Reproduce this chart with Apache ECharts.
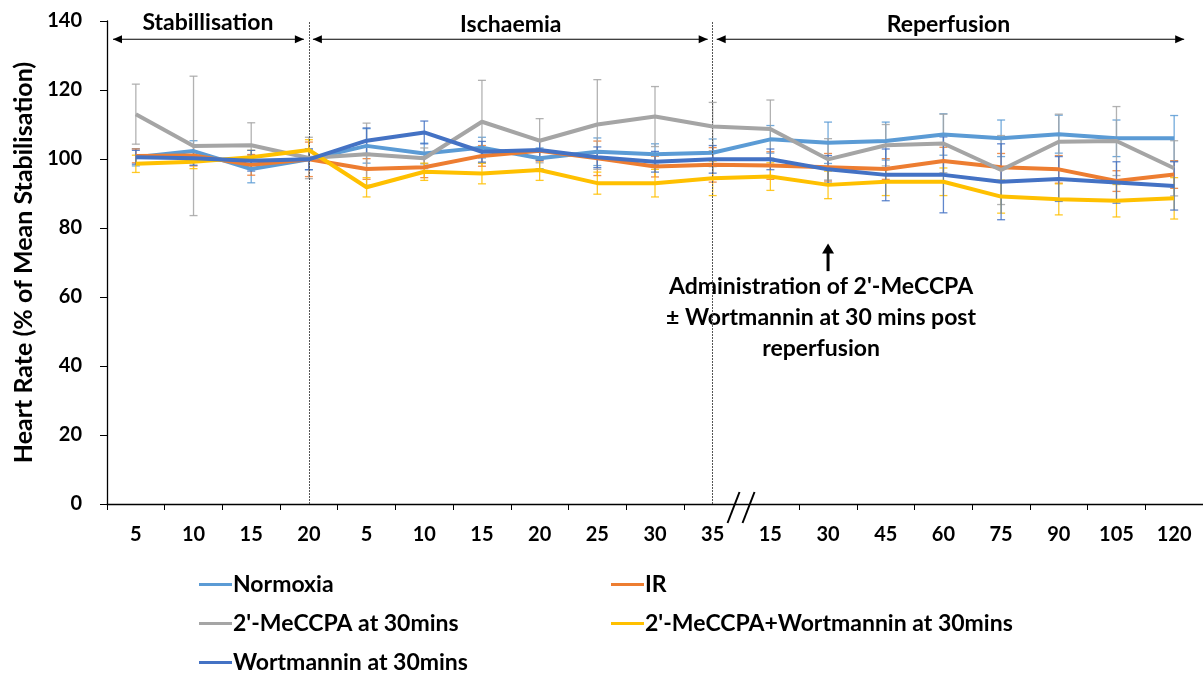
<!DOCTYPE html>
<html><head><meta charset="utf-8">
<script src="https://cdn.jsdelivr.net/npm/echarts@6/dist/echarts.min.js"></script>
<style>html,body{margin:0;padding:0;background:#fff}#c{width:1203px;height:673px}</style>
</head><body><div id="c"></div>
<script>
const categories = ['5','10','15','20','5','10','15','20','25','30','35','15','30','45','60','75','90','105','120'];
const yTicks = [0,20,40,60,80,100,120,140];
const normoxia = [100.5,102.3,97.1,99.9,103.8,101.6,103.3,100.2,102.1,101.4,101.8,105.7,104.7,105.2,107.1,106.0,107.2,106.0,106.0];
const normoxiaErr = [2.5,3,4,3,5,3,3,3,4,3,4,4,6,5.5,6,5.3,5.5,5.3,6.6];
const ir = [100.9,101.0,98.3,99.9,97.1,97.6,100.9,102.4,100.2,97.8,98.3,98.1,97.6,97.1,99.4,97.6,97.0,93.6,95.5];
const irErr = [2,3,3,5,3,3,3,3,5,3,5,4,4,3,4,4,4,3,4];
const meccpa = [113.0,103.8,104.0,100.3,101.4,100.2,110.8,105.3,110.0,112.3,109.4,108.7,99.9,104.0,104.5,96.8,105.0,105.2,97.3];
const meccpaErr = [8.7,20.2,6.5,6,9,3,12,6.4,13,8.7,7,8.4,6,6,8.5,10,8,10,8];
const meccpaWort = [98.6,99.2,100.5,102.6,91.8,96.3,95.8,96.8,93.0,93.0,94.4,94.9,92.5,93.4,93.4,89.1,88.3,87.9,88.6];
const meccpaWortErr = [2.5,2,2,3,2.8,2.5,3,3,3.2,4,5,4,4,4,4,4.8,4.5,4.7,6];
const wort = [100.5,100.2,99.5,99.9,105.3,107.7,102.1,102.6,100.5,99.2,99.9,99.9,97.0,95.4,95.4,93.4,94.2,93.2,92.2];
const wortErr = [2,2,3,3,3.7,3.3,3,3,3,3,4,3,4,7.5,11,11,6.5,6,7];

const seriesDefs = [
  {name:'Normoxia', data:normoxia, err:normoxiaErr, color:'#5B9BD5'},
  {name:'IR', data:ir, err:irErr, color:'#ED7D31'},
  {name:"2'-MeCCPA at 30mins", data:meccpa, err:meccpaErr, color:'#A5A5A5'},
  {name:"2'-MeCCPA+Wortmannin at 30mins", data:meccpaWort, err:meccpaWortErr, color:'#FFC000'},
  {name:'Wortmannin at 30mins', data:wort, err:wortErr, color:'#4472C4'}
];
const FONT = 'Lato, "Open Sans", sans-serif';

const series = [];
seriesDefs.forEach((s, k) => {
  series.push({
    type:'custom', name:s.name+'_err', silent:true, z:1,
    data:s.data.map((v,i)=>[i, v, s.err[i]]),
    renderItem:(params, api) => {
      const x = api.value(0), v = api.value(1), e = api.value(2);
      const top = api.coord([x, v+e]);
      const bot = api.coord([x, v-e]);
      const st = {stroke:s.color, lineWidth:1.3, opacity:0.85};
      return {type:'group', children:[
        {type:'line', shape:{x1:top[0],y1:top[1],x2:bot[0],y2:bot[1]}, style:st},
        {type:'line', shape:{x1:top[0]-4,y1:top[1],x2:top[0]+4,y2:top[1]}, style:st},
        {type:'line', shape:{x1:bot[0]-4,y1:bot[1],x2:bot[0]+4,y2:bot[1]}, style:st}
      ]};
    }
  });
});
seriesDefs.forEach((s, k) => {
  series.push({
    type:'line', name:s.name, data:s.data, symbol:'none', z:3+k,
    lineStyle:{color:s.color, width:4}, itemStyle:{color:s.color}
  });
});
// vertical phase lines
series.push({
  type:'line', data:[], silent:true,
  markLine:{symbol:'none', silent:true, label:{show:false},
    data:[
      [{coord:[3,0]},{coord:[3,140]}],
      [{coord:[10,0]},{coord:[10,140]}]
    ],
    lineStyle:{color:'#555', width:1, type:[2,1]}
  }
});

const chart = echarts.init(document.getElementById('c'), null, {renderer:'canvas'});
const legendCommon = {
  orient:'vertical', itemWidth:33, itemHeight:3, itemGap:16, icon:'rect', height:160,
  textStyle:{fontFamily:FONT, fontWeight:'bold', fontSize:23, color:'#000', padding:[0,0,0,-4]}
};
chart.setOption({
  animation:false,
  textStyle:{fontFamily:FONT},
  grid:{left:107, top:21, width:1096, height:483},
  xAxis:{
    type:'category', data:categories, boundaryGap:true,
    axisLine:{lineStyle:{color:'#000', width:1.3}},
    axisTick:{show:true, inside:false, length:6, lineStyle:{color:'#000'},
      interval:(i)=> i !== 11},
    axisLabel:{fontFamily:FONT, fontWeight:'bold', fontSize:20, color:'#000', margin:21, interval:0}
  },
  yAxis:{
    type:'value', min:0, max:140, interval:20,
    name:'Heart Rate (% of Mean Stabilisation)', nameLocation:'middle', nameRotate:90, nameGap:70,
    nameTextStyle:{fontFamily:FONT, fontWeight:'bold', fontSize:25, color:'#000'},
    axisLine:{show:true, lineStyle:{color:'#000', width:1.3}},
    axisTick:{show:true, inside:false, length:7, lineStyle:{color:'#000'}},
    splitLine:{show:false},
    axisLabel:{fontFamily:FONT, fontWeight:'bold', fontSize:20, color:'#000', margin:25,
      formatter:(v)=> yTicks.includes(v) ? String(v) : ''}
  },
  legend:[
    Object.assign({left:194, top:568, data:['Normoxia',"2'-MeCCPA at 30mins",'Wortmannin at 30mins']}, legendCommon),
    Object.assign({left:606, top:568, data:['IR',"2'-MeCCPA+Wortmannin at 30mins"]}, legendCommon)
  ],
  series:series
});

// annotations
function px(i, v){ return chart.convertToPixel({gridIndex:0}, [i, v]); }
const g = [];
const arrowY = px(0,135)[1] + 1;
function dblArrow(x1, x2, y){
  g.push({type:'line', shape:{x1:x1, y1:y, x2:x2, y2:y}, style:{stroke:'#000', lineWidth:1.2}});
  g.push({type:'polygon', shape:{points:[[x1,y],[x1+9,y-4],[x1+9,y+4]]}, style:{fill:'#000'}});
  g.push({type:'polygon', shape:{points:[[x2,y],[x2-9,y-4],[x2-9,y+4]]}, style:{fill:'#000'}});
}
const gridLeft = 107;
const x3 = px(3,0)[0], x10 = px(10,0)[0], x18 = px(18,0)[0];
dblArrow(gridLeft+6, x3-5, arrowY);
dblArrow(x3+4, x10-5, arrowY);
dblArrow(x10+4, x18+10, arrowY);
const labY = px(0,140)[1] + 2;
function label(text, x, y, size){
  g.push({type:'text', style:{text:text, x:x, y:y, align:'center', verticalAlign:'middle',
    font:'bold '+(size||22)+'px '+FONT, fill:'#000'}});
}
label('Stabillisation', (gridLeft+x3)/2, labY, 23);
label('Ischaemia', (x3+x10)/2, labY+2, 23);
label('Reperfusion', (x10+x18+10)/2, labY+2, 23);
// administration arrow
const ax = px(12,0)[0];
const aTop = px(12,75.5)[1], aBot = px(12,67.5)[1];
g.push({type:'line', shape:{x1:ax, y1:aTop+8, x2:ax, y2:aBot}, style:{stroke:'#000', lineWidth:3}});
g.push({type:'polygon', shape:{points:[[ax,aTop],[ax-6,aTop+10],[ax+6,aTop+10]]}, style:{fill:'#000'}});
label("Administration of 2'-MeCCPA", ax-7, 287, 23);
label('\u00B1 Wortmannin at 30 mins post', ax-7, 318, 23);
label('reperfusion', ax-7, 349, 23);
// axis break marks
const bx = (x10 + px(11,0)[0]) / 2;
const by = px(0,0)[1];
g.push({type:'line', shape:{x1:bx-14, y1:by+19, x2:bx-2, y2:by-12}, style:{stroke:'#000', lineWidth:2}});
g.push({type:'line', shape:{x1:bx+1, y1:by+19, x2:bx+13, y2:by-12}, style:{stroke:'#000', lineWidth:2}});
chart.setOption({graphic:g});
</script></body></html>
